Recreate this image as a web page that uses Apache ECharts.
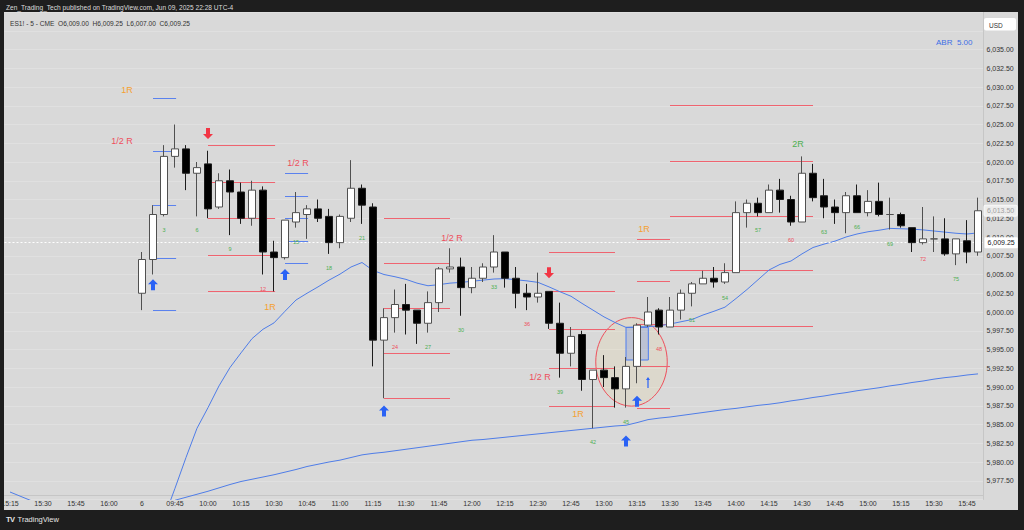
<!DOCTYPE html>
<html>
<head>
<meta charset="utf-8">
<script src="https://cdn.jsdelivr.net/npm/echarts@6/dist/echarts.min.js"></script>
<style>
  html, body { margin: 0; padding: 0; background: #1e1e1e; width: 1024px; height: 530px; overflow: hidden; }
  #hdr { position: absolute; left: 6px; top: 4px; font: 6.6px "Liberation Sans", Arial, sans-serif; color: #dcdcdc; white-space: nowrap; }
  #panel { position: absolute; left: 4px; top: 12px; width: 1014px; height: 498px; background: #d9d9d9; }
  #chart { width: 1014px; height: 498px; }
  #ftr { position: absolute; left: 6px; top: 515px; font: 7.5px "Liberation Sans", Arial, sans-serif; color: #e6e6e6; white-space: nowrap; }
  #ftr b { font-weight: 900; letter-spacing: -0.5px; margin-right: 3px; }
</style>
</head>
<body>
<div id="hdr">Zen_Trading_Tech published on TradingView.com, Jun 09, 2025 22:28 UTC-4</div>
<div id="panel"><div id="chart"></div></div>
<div id="ftr"><b>TV</b>TradingView</div>
<script>
// ---------- DATA ----------
const sessionDayLabel = '6';
const prevDayTimes = ['15:15','15:20','15:25','15:30','15:35','15:40','15:45','15:50','15:55','16:00','16:05','16:10'];
const todayTimes = ['09:30','09:35','09:40','09:45','09:50','09:55','10:00','10:05','10:10','10:15','10:20','10:25',
  '10:30','10:35','10:40','10:45','10:50','10:55','11:00','11:05','11:10','11:15','11:20','11:25',
  '11:30','11:35','11:40','11:45','11:50','11:55','12:00','12:05','12:10','12:15','12:20','12:25',
  '12:30','12:35','12:40','12:45','12:50','12:55','13:00','13:05','13:10','13:15','13:20','13:25',
  '13:30','13:35','13:40','13:45','13:50','13:55','14:00','14:05','14:10','14:15','14:20','14:25',
  '14:30','14:35','14:40','14:45','14:50','14:55','15:00','15:05','15:10','15:15','15:20','15:25',
  '15:30','15:35','15:40','15:45','15:50'];

// [open, high, low, close] for bars 1..77
const candles = [
  [6002.5,6008.0,6000.25,6007.0],[6007.0,6014.25,6005.0,6013.0],[6013.0,6022.25,6012.75,6020.75],
  [6020.75,6025.0,6019.25,6021.75],[6021.75,6022.25,6016.25,6018.5],[6018.5,6020.0,6012.75,6019.25],
  [6019.75,6021.5,6012.5,6013.75],[6014.0,6018.5,6013.75,6017.5],[6017.5,6019.0,6010.25,6016.0],
  [6016.0,6017.25,6011.75,6012.5],[6012.5,6017.5,6011.5,6016.25],[6016.25,6016.75,6005.0,6008.0],
  [6008.0,6009.5,6002.75,6007.25],[6007.25,6012.25,6007.0,6012.25],[6012.0,6016.0,6011.25,6013.25],
  [6013.0,6014.25,6009.75,6013.75],[6013.75,6015.0,6012.0,6012.5],[6012.75,6013.75,6007.75,6009.25],
  [6009.25,6013.0,6008.5,6012.75],[6012.5,6020.25,6012.0,6016.5],[6016.5,6017.0,6011.75,6014.25],
  [6014.0,6014.5,5992.75,5996.25],[5996.25,6000.5,5988.5,5999.25],[5999.25,6003.0,5997.25,6001.0],
  [6001.0,6003.75,5997.0,6000.25],[6000.25,6000.25,5995.75,5998.5],[5998.5,6002.75,5997.25,6001.25],
  [6001.25,6006.0,6000.0,6005.75],[6005.75,6008.5,6005.25,6006.0],[6006.0,6007.25,5999.5,6003.25],
  [6003.25,6006.0,6002.5,6004.5],[6004.5,6006.5,6004.0,6006.0],[6006.0,6010.25,6005.25,6008.0],
  [6008.0,6008.0,6003.25,6004.5],[6004.5,6006.0,6000.5,6002.5],[6002.5,6003.75,6000.25,6002.0],
  [6002.0,6005.25,6001.25,6002.5],[6002.75,6002.75,5997.75,5998.5],[5998.5,6001.25,5991.25,5994.5],
  [5994.5,5998.0,5992.75,5996.75],[5997.0,5997.5,5989.5,5991.0],[5991.0,5992.25,5984.5,5992.25],
  [5992.25,5994.25,5990.0,5991.25],[5991.25,5992.75,5987.25,5989.75],[5989.75,5994.0,5987.25,5992.75],
  [5992.75,5998.5,5990.5,5998.25],[5998.25,6002.0,5998.0,6000.0],[6000.25,6000.5,5997.0,5998.0],
  [5998.0,6002.0,5998.0,6000.25],[6000.25,6003.0,5999.0,6002.5],[6002.5,6004.0,6000.75,6003.75],
  [6003.75,6005.5,6003.75,6004.5],[6004.5,6006.0,6003.25,6004.0],[6004.0,6006.5,6003.75,6005.25],
  [6005.25,6014.75,6005.25,6013.25],[6013.25,6015.0,6011.25,6014.5],[6014.5,6015.25,6012.75,6013.25],
  [6013.25,6017.0,6013.25,6016.25],[6016.25,6017.75,6013.25,6015.0],[6015.0,6015.5,6011.5,6012.0],
  [6012.0,6020.75,6012.0,6018.5],[6018.5,6019.75,6014.75,6015.25],[6015.5,6017.75,6012.5,6014.0],
  [6014.0,6015.0,6011.75,6013.25],[6013.25,6016.0,6010.5,6015.5],[6015.5,6017.0,6013.25,6013.25],
  [6013.25,6016.25,6012.75,6014.75],[6014.75,6017.25,6012.75,6013.0],[6013.0,6015.25,6011.0,6013.0],
  [6013.0,6013.25,6011.25,6011.5],[6011.25,6011.25,6008.0,6009.25],[6009.25,6014.0,6009.0,6009.75],
  [6009.75,6012.75,6008.0,6009.75],[6009.75,6012.5,6007.5,6007.75],[6007.75,6009.75,6006.25,6009.75],
  [6009.5,6012.25,6006.5,6008.0],[6008.0,6015.25,6007.5,6013.5]
];

// fast moving average, bars 1..77 (bars 1-2 below view)
const fastMA = [null,null,5972.5,5976.5,5980.6,5984.5,5987.25,5990.15,5992.6,5994.55,5996.45,5997.7,
  5998.55,6000.1,6001.6,6002.5,6003.35,6004.25,6005.05,6006.0,6006.6,6005.55,6005.0,6004.7,
  6004.35,6003.85,6003.5,6003.65,6003.85,6003.95,6004.1,6004.25,6004.4,6004.45,6004.3,6004.15,
  6003.95,6003.35,6002.7,6002.1,6001.15,6000.25,5999.35,5998.6,5997.95,5998.0,5998.05,5998.15,
  5998.4,5998.7,5999.0,5999.6,6000.1,6000.65,6001.8,6003.0,6004.3,6005.6,6006.35,6006.8,
  6007.75,6008.6,6009.05,6009.45,6010.0,6010.4,6010.7,6010.9,6011.15,6011.1,6011.05,6010.95,
  6010.8,6010.65,6010.5,6010.4,6010.55];

// slow moving average: previous-day tail (bars -11..-9) and today bars 1..77
const slowMAPrev = [5976.0,5975.4,5974.8];
const slowMA = [null,null,null,5974.9,5975.3,5975.7,5976.1,5976.55,5977.0,5977.4,5977.7,5978.0,
  5978.3,5978.65,5979.0,5979.4,5979.7,5980.0,5980.25,5980.6,5980.95,5981.15,5981.3,5981.5,
  5981.7,5981.9,5982.1,5982.3,5982.5,5982.7,5982.9,5983.0,5983.15,5983.3,5983.45,5983.6,
  5983.75,5983.9,5984.05,5984.2,5984.35,5984.5,5984.65,5984.8,5984.9,5985.25,5985.65,5985.85,
  5986.0,5986.2,5986.4,5986.6,5986.8,5987.0,5987.15,5987.35,5987.55,5987.7,5987.9,5988.15,
  5988.35,5988.6,5988.8,5989.05,5989.25,5989.5,5989.7,5989.9,5990.15,5990.35,5990.6,5990.8,
  5991.05,5991.25,5991.4,5991.6,5991.75];

// drawn level lines: [fromBar, toBar, price]
const blueLevels = [
  [2,4.1,6028.5],[2,4.1,6021.5],[2,4.1,6014.25],[2,4.1,6007.25],[2,4.1,6000.25],
  [14,16.1,6018.5],[14,16.1,6015.5],[14,16.1,6012.5],[14,16.1,6009.5],[14,16.1,6006.5]
];
const redLevels = [
  [7,13.1,6022.25],[7,13.1,6017.4],[7,13.1,6012.5],[7,13.1,6007.6],[7,13.1,6002.75],
  [23,29,6012.6],[23,29,6006.6],[23,29,6000.6],[23,29,5994.6],[23,29,5988.6],
  [38,44,6007.95],[38,44,6002.8],[38,44,5997.7],[38,44,5992.6],[38,44,5987.5],
  [46,49,6009.8],[46,49,6004.1],[46,49,5998.45],[46,49,5992.8],[46,49,5987.15],
  [49,62,6027.6],[49,62,6020.15],[49,62,6012.8],[49,62,6005.55],[49,62,5998.2]
];
// target labels: [bar, price, text]
const rLabels = [
  [-0.36,6029.6,'1R'],[-0.82,6022.8,'1/2 R'],[15.18,6019.85,'1/2 R'],[12.64,6000.65,'1R'],
  [29.18,6009.85,'1/2 R'],[37.18,5991.35,'1/2 R'],[40.64,5986.4,'1R'],[46.64,6011.05,'1R'],
  [60.64,6022.4,'2R']
];
const upArrows = [[2,6003.65],[14,6005.0],[23,5986.8],[45,5982.8],[46,5988.1]];
const downArrows = [[7,6023.8],[38,6005.25]];
const thinUpArrows = [[47,5990.6]];
const countEvery = 3;
const highlightBox = [45, 47.03, 5997.95, 5993.6];        // [fromBar, toBar, top, bottom]
const focusEllipse = [45.5, 5993.35, 3.25, 5.9];          // [bar, price, half-width bars, half-height points]
const crosshairPrice = 6009.25;
const lastPrice = 6013.5;
const symbolLine = 'ES1! - 5 - CME  O6,009.00  H6,009.25  L6,007.00  C6,009.25';
const abrText = 'ABR  5.00';
const currency = 'USD';

// ---------- CHART ----------
const FONT = '"Liberation Sans", Arial, sans-serif';
const fmt = v => v.toLocaleString('en-US', {minimumFractionDigits: 2, maximumFractionDigits: 2});
const times = prevDayTimes.concat(todayTimes);
const candleData = prevDayTimes.map(() => ['-','-','-','-'])
  .concat(candles.map(([o,h,l,c]) => [o,c,l,h]));
const fastData = fastMA.map((v,i) => [i+1, v]).filter(d => d[1] !== null);
const slowData = slowMAPrev.map((v,i) => [i-11, v]).concat([[-8, null]])
  .concat(slowMA.map((v,i) => [i+1, v]).filter(d => d[1] !== null));
const countData = [];
candles.forEach((c,i) => { const n = i+1; if (n % countEvery === 0) countData.push([n, c[2]]); });
const labelColor = t => t === '2R' ? '#4caf50' : (t === '1R' ? '#f5a030' : '#ee4f5c');

function levelSeries(levels, color) {
  return {
    type: 'custom', xAxisIndex: 1, yAxisIndex: 0, z: 1, silent: true, animation: false,
    data: levels, encode: {x: [0,1], y: 2},
    renderItem(params, api) {
      const a = api.coord([api.value(0), api.value(2)]);
      const b = api.coord([api.value(1), api.value(2)]);
      const y = Math.round(a[1]) + 0.5;
      return {type: 'line', shape: {x1: a[0], y1: y, x2: b[0], y2: y}, style: {stroke: color, lineWidth: 1}};
    }
  };
}
function arrowSeries(data, path, size, color) {
  return {type: 'scatter', xAxisIndex: 1, yAxisIndex: 0, z: 6, silent: true, animation: false,
    data: data, symbol: path, symbolSize: size, itemStyle: {color: color, opacity: 1}};
}
const UP = 'path://M5,0 L10,5 L7,5 L7,11 L3,11 L3,5 L0,5 Z';
const DOWN = 'path://M3,0 L7,0 L7,6 L10,6 L5,11 L0,6 L3,6 Z';
const THIN_UP = 'path://M2,0 L4,3 L2.6,3 L2.6,11 L1.4,11 L1.4,3 L0,3 Z';

const chart = echarts.init(document.getElementById('chart'), null, {renderer: 'svg'});
chart.setOption({
  backgroundColor: 'transparent',
  animation: false,
  textStyle: {fontFamily: FONT},
  grid: {left: 0.5, right: 34.5, top: 0, height: 487.5, containLabel: false, outerBoundsMode: 'none'},
  xAxis: [
    {type: 'category', data: times, boundaryGap: true, offset: -4.5,
     axisLine: {show: true, onZero: false, lineStyle: {color: '#c6c6c6'}}, axisTick: {show: false},
     splitLine: {show: false},
     axisLabel: {interval: 2, margin: 5, fontSize: 7, color: '#333', fontFamily: FONT,
       formatter: (v, i) => (i === prevDayTimes.length ? sessionDayLabel : v)}},
    {type: 'value', min: -11.5, max: 77.5, show: false}
  ],
  yAxis: {type: 'value', position: 'right', min: 5975, max: 6040, interval: 2.5,
    axisLine: {show: true, onZero: false, lineStyle: {color: '#c6c6c6'}}, axisTick: {show: false},
    splitLine: {show: true, lineStyle: {color: '#e0e0e0', width: 1}},
    axisLabel: {margin: 3, fontSize: 7, color: '#333', fontFamily: FONT,
      formatter: v => (v < 5977 || v > 6036) ? '' : fmt(v)}},
  graphic: [
    {type: 'text', left: 6, top: 8, style: {text: symbolLine, fill: '#333', font: '6.6px ' + FONT}},
    {type: 'rect', left: 980, top: 6, shape: {width: 32, height: 12.5, r: 2}, style: {fill: '#ffffff'}},
    {type: 'text', left: 985, top: 9.5, style: {text: currency, fill: '#333', font: '6.5px ' + FONT}},
    {type: 'text', left: 932, top: 26, style: {text: abrText, fill: '#3d6fe6', font: '8px ' + FONT}}
  ],
  series: [
    {type: 'custom', xAxisIndex: 1, yAxisIndex: 0, z: 0, silent: true, animation: false,
     data: [focusEllipse], encode: {x: 0, y: 1},
     renderItem(params, api) {
       const c = api.coord([api.value(0), api.value(1)]);
       const s = api.size([api.value(2), api.value(3)]);
       return {type: 'ellipse', shape: {cx: c[0], cy: c[1], rx: s[0], ry: s[1]},
         style: {fill: 'rgba(232,214,160,0.22)', stroke: '#ee4f5c', lineWidth: 1}};
     }},
    {type: 'custom', xAxisIndex: 1, yAxisIndex: 0, z: 1, silent: true, animation: false,
     data: [highlightBox], encode: {x: [0,1], y: [2,3]},
     renderItem(params, api) {
       const a = api.coord([api.value(0), api.value(2)]);
       const b = api.coord([api.value(1), api.value(3)]);
       return {type: 'rect', shape: {x: a[0], y: a[1], width: b[0]-a[0], height: b[1]-a[1]},
         style: {fill: 'rgba(60,110,240,0.2)', stroke: '#4d7cf0', lineWidth: 1}};
     }},
    levelSeries(blueLevels, '#5b82ee'),
    levelSeries(redLevels, '#ef6470'),
    {type: 'line', xAxisIndex: 1, yAxisIndex: 0, z: 3, data: slowData, showSymbol: false, connectNulls: false,
     lineStyle: {color: '#4f7de8', width: 1}, silent: true, animation: false},
    {type: 'line', xAxisIndex: 1, yAxisIndex: 0, z: 3, data: fastData, showSymbol: false,
     lineStyle: {color: '#4f7de8', width: 1}, silent: true, animation: false},
    {type: 'candlestick', xAxisIndex: 0, yAxisIndex: 0, z: 5, barWidth: 7, data: candleData, silent: true,
     itemStyle: {color: '#ffffff', color0: '#000000', borderColor: '#505050', borderColor0: '#1c1c1c', borderWidth: 1},
     markLine: {silent: true, symbol: ['none','none'], animation: false,
       data: [
         {yAxis: crosshairPrice, lineStyle: {color: '#ffffff', type: [2,2], width: 1},
          label: {show: true, position: 'end', distance: 1, formatter: fmt(crosshairPrice),
            backgroundColor: '#ffffff', color: '#131722', fontSize: 7, fontFamily: FONT, padding: [2,3,2,3], borderRadius: 1}},
         {yAxis: lastPrice, lineStyle: {color: 'rgba(0,0,0,0)', width: 0},
          label: {show: true, position: 'end', distance: 1, formatter: fmt(lastPrice),
            backgroundColor: 'rgba(238,238,238,0.85)', borderColor: '#f8f8f8', borderWidth: 1,
            color: '#a0a0a0', fontSize: 7, fontFamily: FONT, padding: [1.5,2.5,1.5,2.5], borderRadius: 1}}
       ]}},
    arrowSeries(upArrows, UP, [10, 11], '#2a62f5'),
    arrowSeries(downArrows, DOWN, [10, 11], '#f23645'),
    arrowSeries(thinUpArrows, THIN_UP, [4, 11], '#2a62f5'),
    {type: 'custom', xAxisIndex: 1, yAxisIndex: 0, z: 7, silent: true, animation: false,
     data: rLabels.map(r => [r[0], r[1]]), encode: {x: 0, y: 1},
     renderItem(params, api) {
       const p = api.coord([api.value(0), api.value(1)]);
       const t = rLabels[params.dataIndex][2];
       return {type: 'text', x: p[0], y: p[1],
         style: {text: t, fill: labelColor(t), font: '9px ' + FONT, align: 'center', verticalAlign: 'middle'}};
     }},
    {type: 'custom', xAxisIndex: 1, yAxisIndex: 0, z: 7, silent: true, animation: false,
     data: countData, encode: {x: 0, y: 1},
     renderItem(params, api) {
       const n = api.value(0);
       const p = api.coord([n, api.value(1)]);
       return {type: 'text', x: p[0], y: p[1] + 14,
         style: {text: String(n), fill: n % 12 === 0 ? '#ee4f5c' : '#4caf50', font: '5.5px ' + FONT,
           align: 'center', verticalAlign: 'middle'}};
     }}
  ]
});
</script>
</body>
</html>
